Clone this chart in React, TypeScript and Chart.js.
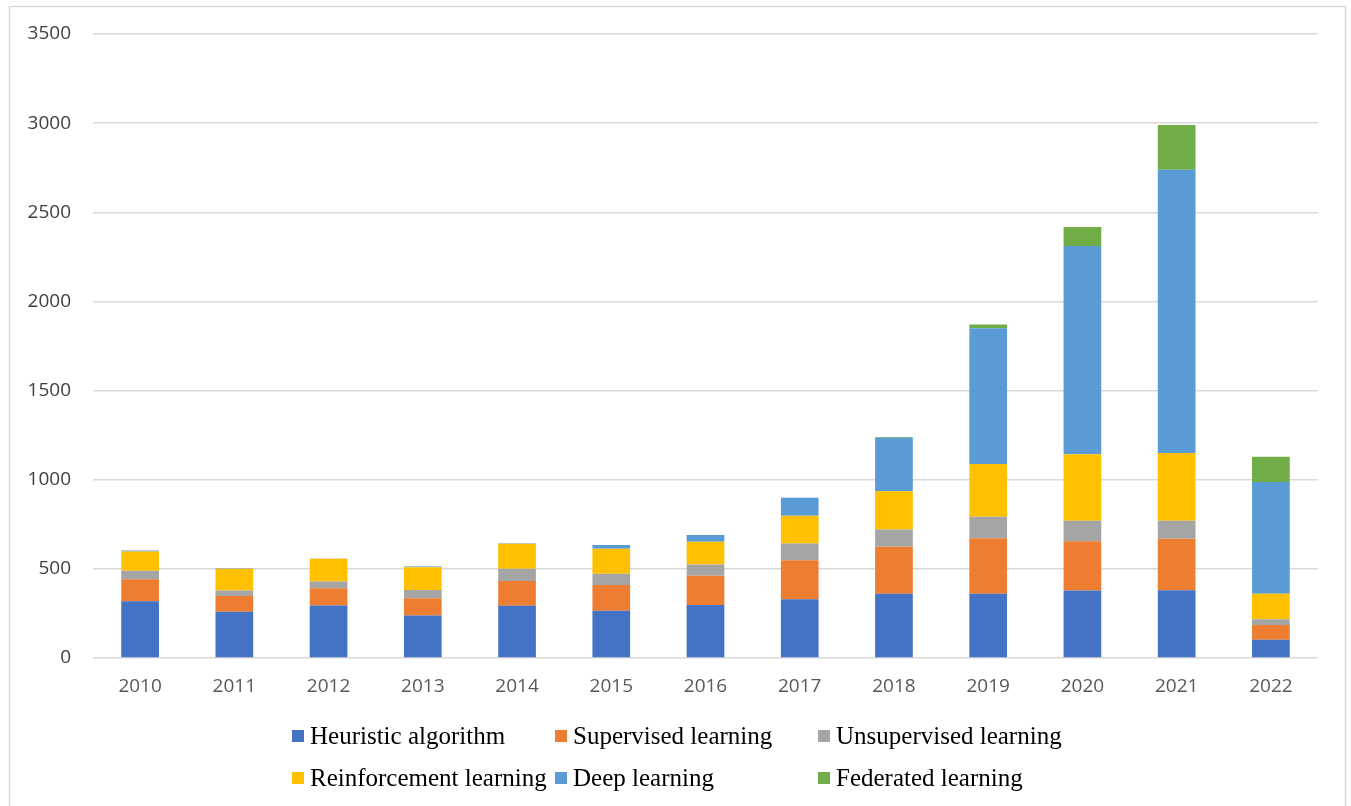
import React, { useEffect, useRef } from "react";
import { Chart, registerables } from "chart.js";

Chart.register(...registerables);

const years = ["2010", "2011", "2012", "2013", "2014", "2015", "2016", "2017", "2018", "2019", "2020", "2021", "2022"];
const seriesNames = [
  "Heuristic algorithm",
  "Supervised learning",
  "Unsupervised learning",
  "Reinforcement learning",
  "Deep learning",
  "Federated learning",
];
const heuristic = [318, 260, 294, 238, 293, 265, 297, 329, 361, 361, 378, 380, 103];
const supervised = [124, 88, 97, 97, 139, 145, 164, 219, 263, 311, 277, 289, 82];
const unsupervised = [47, 30, 38, 47, 68, 62, 63, 94, 97, 120, 115, 101, 32];
const reinforcement = [108, 122, 127, 127, 141, 141, 128, 156, 214, 296, 373, 380, 144];
const deep = [6, 3, 2, 4, 2, 21, 38, 101, 301, 762, 1168, 1588, 626];
const federated = [0, 0, 0, 2, 0, 0, 0, 0, 3, 21, 107, 251, 142];
const colors = ["#4472C4", "#ED7D31", "#A5A5A5", "#FFC000", "#5B9BD5", "#70AD47"];
const yTicks = [0, 500, 1000, 1500, 2000, 2500, 3000, 3500];

const frameAndLegend = {
  id: "frameAndLegend",
  beforeDraw(chart: any) {
    const ctx = chart.ctx;
    ctx.save();
    ctx.fillStyle = "#ffffff";
    ctx.fillRect(0, 0, chart.width, chart.height);
    ctx.strokeStyle = "#d9d9d9";
    ctx.lineWidth = 1.5;
    ctx.strokeRect(9.5, 6.5, 1336, 830);
    ctx.restore();
  },
  afterDraw(chart: any) {
    const ctx = chart.ctx;
    ctx.save();
    ctx.font = '25px "Liberation Serif", "Times New Roman", serif';
    ctx.textBaseline = "middle";
    ctx.textAlign = "left";
    chart.data.datasets.forEach((ds: any, i: number) => {
      const col = i % 3;
      const row = Math.floor(i / 3);
      const textX = 310 + col * 263;
      const cy = 736 + row * 42;
      ctx.fillStyle = ds.backgroundColor;
      ctx.fillRect(textX - 18, cy - 6, 12, 12);
      ctx.fillStyle = "#000000";
      ctx.fillText(ds.label, textX, cy + 1);
    });
    ctx.restore();
  },
};

export default function App() {
  const ref = useRef<HTMLCanvasElement>(null);
  useEffect(() => {
    if (!ref.current) return;
    const values = [heuristic, supervised, unsupervised, reinforcement, deep, federated];
    const chart = new Chart(ref.current, {
      type: "bar",
      data: {
        labels: years,
        datasets: values.map((v, i) => ({
          label: seriesNames[i],
          data: v,
          backgroundColor: colors[i],
          borderWidth: 0,
          categoryPercentage: 1,
          barPercentage: 0.4,
        })),
      },
      options: {
        animation: false,
        responsive: true,
        maintainAspectRatio: false,
        layout: { padding: { top: 34, right: 33, left: 0, bottom: 0 } },
        plugins: {
          legend: { display: false },
          tooltip: { enabled: false },
        },
        scales: {
          x: {
            stacked: true,
            grid: { display: false, drawTicks: false },
            border: { display: false },
            ticks: {
              color: "#595959",
              font: { family: '"Open Sans", sans-serif', size: 19 },
              padding: 17,
              maxRotation: 0,
            },
            afterFit: (s: any) => {
              s.height = 148;
            },
          },
          y: {
            stacked: true,
            min: 0,
            max: 3500,
            afterBuildTicks: (s: any) => {
              s.ticks = yTicks.map((v) => ({ value: v }));
            },
            grid: { color: "#d9d9d9", lineWidth: 1.5, drawTicks: false },
            border: { display: false },
            ticks: {
              color: "#404040",
              font: { family: '"Open Sans", sans-serif', size: 19 },
              padding: 22,
              callback: (v: any) => String(v),
            },
            afterFit: (s: any) => {
              s.width = 93;
            },
          },
        },
      },
      plugins: [frameAndLegend],
    });
    return () => chart.destroy();
  }, []);
  return (
    <div style={{ position: "absolute", left: 0, top: 0, width: 1351, height: 806, background: "#fff" }}>
      <canvas ref={ref} />
    </div>
  );
}
